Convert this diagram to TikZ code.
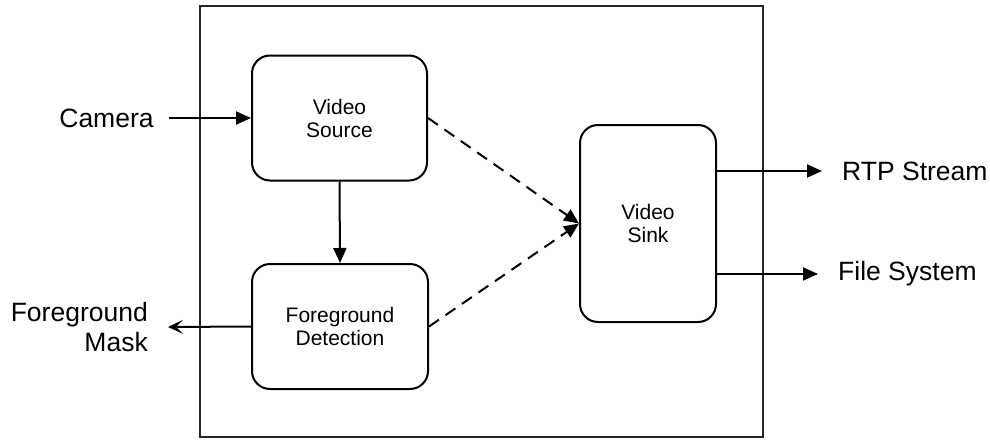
\documentclass[tikz,border=0pt]{standalone}
\usepackage{fontspec}
\setmainfont{Liberation Sans}
\usetikzlibrary{arrows.meta}
\begin{document}
\begin{tikzpicture}[x=1pt,y=-1pt,
  block/.style={draw=black, line width=2pt, rounded corners=18pt, align=center,
    font=\fontsize{21}{23}\selectfont, inner sep=0pt},
  label/.style={inner sep=0pt, font=\fontsize{26.5}{30}\selectfont},
  arr/.style={line width=2pt, -{Triangle[length=15pt,width=13pt]}},
  openarr/.style={line width=2pt, -{Stealth[length=15pt,width=14pt,inset=7pt]}},
  dasharr/.style={line width=2pt, dash pattern=on 12pt off 8pt,
    -{Triangle[length=15pt,width=13pt]}}]
  \useasboundingbox (0,0) rectangle (990,439);
  % enclosing frame
  \draw[line width=1.6pt, black!85] (200,6) rectangle (763,437);
  % processing blocks
  \node[block, minimum width=175pt, minimum height=125pt] (vsrc) at (339.5,118) {Video\\Source};
  \node[block, minimum width=176pt, minimum height=125pt] (fgd) at (340,326.5) {Foreground\\Detection};
  \node[block, minimum width=136pt, minimum height=197pt] (sink) at (648,223.5) {Video\\Sink};
  % external endpoints
  \node[label] (cam) at (106.5,118) {Camera};
  \node[label, align=right, anchor=east] (mask) at (148,327) {Foreground\\Mask};
  \node[label, anchor=west] (rtp) at (842,171) {RTP Stream};
  \node[label, anchor=west] (fs) at (838,274) {File System};
  % connectors
  \draw[arr] ([xshift=15pt]cam.east) -- (vsrc.west);
  \draw[arr] (vsrc.south) -- (fgd.north);
  \draw[openarr] (fgd.west) -- ([xshift=20pt]mask.east);
  \draw[dasharr] (vsrc.east) -- (sink.west);
  \draw[dasharr] (fgd.east) -- (sink.west);
  \draw[arr] (sink.east |- rtp.west) -- ([xshift=-20pt]rtp.west);
  \draw[arr] (sink.east |- fs.west) -- ([xshift=-20pt]fs.west);
\end{tikzpicture}
\end{document}
